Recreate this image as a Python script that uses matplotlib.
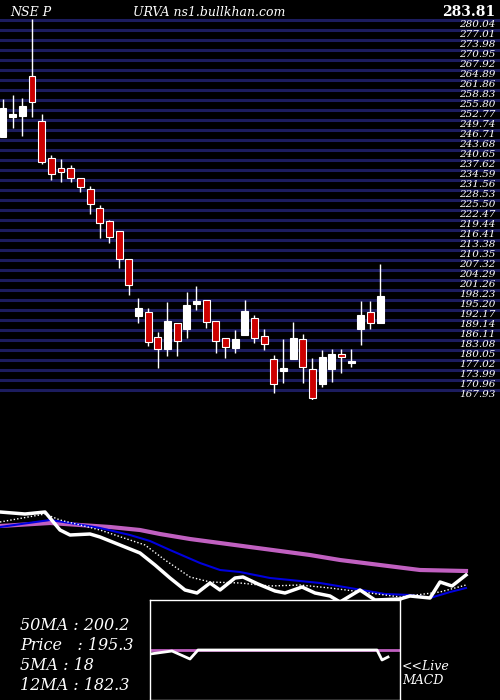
import matplotlib
matplotlib.use("Agg")
import matplotlib.pyplot as plt
import numpy as np

opens  = [244.6,250.6,250.9,263.1,249.4,238.2,235.2,235.2,232.2,228.8,223.1,219.1,216.1,207.6,190.3,191.6,184.0,180.4,188.2,186.4,
          194.0,195.2,188.8,183.7,180.7,184.6,189.7,184.3,177.3,173.7,177.3,183.4,174.3,169.7,174.3,178.8,176.1,186.4,191.6,188.2]
closes = [253.4,251.6,254.0,255.2,237.0,233.4,234.0,232.2,229.4,224.3,218.5,214.3,207.6,199.7,192.8,182.5,180.4,188.8,182.8,193.7,
          194.9,188.5,182.8,181.0,183.4,191.9,183.7,181.9,169.7,174.6,183.7,174.9,165.5,177.9,178.8,177.9,176.4,190.7,188.2,196.4]
highs  = [256.1,257.3,256.4,280.3,251.6,239.1,237.9,236.1,232.2,229.7,224.0,219.4,216.1,207.6,195.8,192.8,185.5,194.6,188.2,197.6,
          199.4,195.2,188.8,183.7,186.1,195.2,190.7,186.4,178.5,183.4,188.5,184.9,177.6,180.0,180.4,180.4,180.4,194.9,194.9,206.1]
lows   = [244.6,247.3,244.9,250.6,236.4,231.6,231.0,231.0,227.9,221.3,214.0,212.5,204.9,196.7,188.2,181.3,174.6,178.2,178.2,183.7,
          192.2,186.7,179.1,177.6,179.1,184.6,182.2,180.0,167.0,170.0,177.3,170.0,164.9,168.8,170.4,173.1,174.9,181.6,186.4,188.2]

# lower panel series (x position, level)
ma_x = [0,25,45,60,70,90,100,120,140,155,170,185,197,210,220,235,243,258,275,285,302,315,330,340,360,375,400,410,430,440,452,466]
price_line = [188,186,188,170,165,166,163,155,147,135,122,110,107,117,110,122,123,116,109,107,113,107,104,98,110,100,101,104,102,118,114,125]
dot_x = [0,45,60,100,145,165,190,210,240,270,300,330,370,400,440,466]
dot_line = [178,186,180,170,155,140,123,118,117,114,115,112,107,103,108,115]
blue_x = [0,50,70,100,130,150,170,200,220,240,270,300,320,350,385,410,430,450,466]
blue_line = [173,180,177,172,165,159,150,137,130,128,122,119,117,112,106,105,102,108,112]
mag_x = [0,50,80,110,140,160,190,220,250,280,310,340,380,420,466]
mag_line = [174,177,175,173,170,166,161,157,153,149,145,140,135,130,129]
macd_x = [150,172,190,198,377,382,388]
macd_line = [46,49,41,50,50,40,43]

fig = plt.figure(figsize=(5,7), dpi=100, facecolor="black")
ax = fig.add_axes([0, 300/700, 1, 400/700], facecolor="black")
ax.set_xlim(-0.31, 51.4)
ax.set_ylim(164.9, 286.1)
ax.axis("off")
for k in range(38):
    yv = 286.1 - 0.303*(20+10*k)
    ax.axhline(yv, color="#1c1c5e", lw=2.2, zorder=1)
    ax.text(50.9, yv-1.3, f"{yv:.2f}", color="white", fontsize=7.5, family="DejaVu Serif",
            style="italic", ha="right", va="center", zorder=3)
ax.text(50.9, 286.1-0.303*12, "283.81", color="white", fontsize=10, family="DejaVu Serif",
        weight="bold", ha="right", va="center", zorder=3)
for i,(o,c,h,l) in enumerate(zip(opens,closes,highs,lows)):
    up = c >= o
    ax.vlines(i, l, h, color="white", lw=1, zorder=2)
    ax.bar(i, max(abs(c-o),0.6), bottom=min(o,c), width=0.72,
           color="white" if up else "#cc0000", edgecolor="white", lw=0.8, zorder=2)
fig.text(10/500, 1-12/700, "NSE P", color="white", fontsize=9, family="DejaVu Serif", style="italic", va="center")
fig.text(133/500, 1-12/700, "URVA ns1.bullkhan.com", color="white", fontsize=9, family="DejaVu Serif", style="italic", va="center")

ax2 = fig.add_axes([0, 0, 1, 220/700], facecolor="black")
ax2.set_xlim(0, 500); ax2.set_ylim(0, 220); ax2.axis("off")
ax2.plot(mag_x, mag_line, color="#c060c0", lw=3)
ax2.plot(blue_x, blue_line, color="#0000dd", lw=1.5)
ax2.plot(dot_x, dot_line, color="white", lw=1, ls=(0,(1,1.5)))
ax2.plot(ma_x, price_line, color="white", lw=2.5)

ax3 = fig.add_axes([150/500, 0, 250/500, 100/700], facecolor="black", zorder=5)
ax3.set_xlim(150, 400); ax3.set_ylim(0, 100)
ax3.set_xticks([]); ax3.set_yticks([])
for s in ax3.spines.values():
    s.set_color("white"); s.set_linewidth(1)
ax3.axhline(50, color="#c060c0", lw=2)
ax3.plot(macd_x, macd_line, color="white", lw=2)

labels = ["50MA : 200.2", "Price   : 195.3", "5MA : 18", "12MA : 182.3"]
for j, t in enumerate(labels):
    fig.text(20/500, 1-(625+20*j)/700, t, color="white", fontsize=11.5, family="DejaVu Serif", style="italic", va="center")
fig.text(402/500, 1-666/700, "<<Live", color="white", fontsize=9, family="DejaVu Serif", style="italic", va="center")
fig.text(402/500, 1-681/700, "MACD", color="white", fontsize=9, family="DejaVu Serif", style="italic", va="center")
fig.savefig("out.png", dpi=100, facecolor="black")
